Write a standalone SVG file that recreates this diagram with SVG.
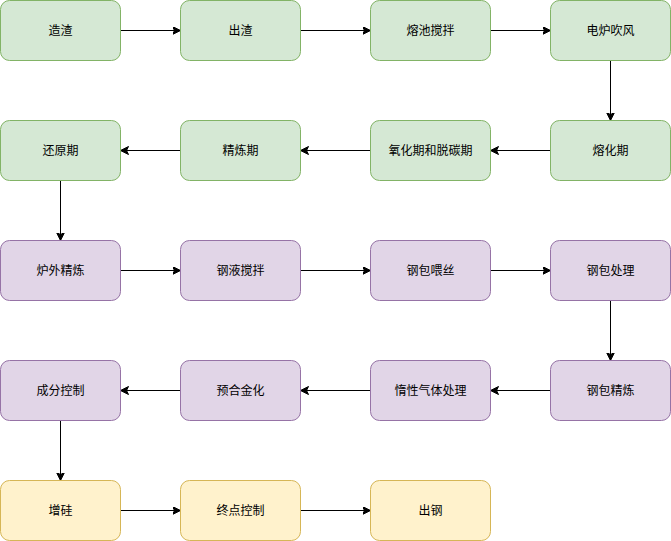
<svg xmlns="http://www.w3.org/2000/svg" width="671" height="541" viewBox="0 0 671 541">
<defs>
<style>
.n rect{stroke-width:1}
.g rect{fill:#d5e8d4;stroke:#82b366}
.p rect{fill:#e1d5e7;stroke:#9673a6}
.y rect{fill:#fff2cc;stroke:#d6b656}
.n text{font-family:"Liberation Sans","Noto Sans CJK SC",sans-serif;font-size:12px;fill:#000;text-anchor:middle;dominant-baseline:central}
#edges path{fill:none;stroke:#000;stroke-width:1;marker-end:url(#arr)}
</style>
<marker id="arr" markerUnits="userSpaceOnUse" markerWidth="10" markerHeight="10" viewBox="0 0 10 10" refX="8" refY="4" orient="auto">
<path d="M0,0 L8,4 L0,8 L2,4 Z" fill="#000" stroke="#000" stroke-width="1"/>
</marker>
</defs>
<rect width="671" height="541" fill="#fff"/>
<g id="edges">
<path d="M120.5,30.5 H180.5"/>
<path d="M300.5,30.5 H370.5"/>
<path d="M490.5,30.5 H550.5"/>
<path d="M610.5,60.5 V120.5"/>
<path d="M550.5,150.5 H490.5"/>
<path d="M370.5,150.5 H300.5"/>
<path d="M180.5,150.5 H120.5"/>
<path d="M60.5,180.5 V240.5"/>
<path d="M120.5,270.5 H180.5"/>
<path d="M300.5,270.5 H370.5"/>
<path d="M490.5,270.5 H550.5"/>
<path d="M610.5,300.5 V360.5"/>
<path d="M550.5,390.5 H490.5"/>
<path d="M370.5,390.5 H300.5"/>
<path d="M180.5,390.5 H120.5"/>
<path d="M60.5,420.5 V480.5"/>
<path d="M120.5,510.5 H180.5"/>
<path d="M300.5,510.5 H370.5"/>
</g>
<g id="n1" class="n g"><rect x="0.5" y="0.5" width="120" height="60" rx="9"/><text x="60.5" y="30.5">造渣</text></g>
<g id="n2" class="n g"><rect x="180.5" y="0.5" width="120" height="60" rx="9"/><text x="240.5" y="30.5">出渣</text></g>
<g id="n3" class="n g"><rect x="370.5" y="0.5" width="120" height="60" rx="9"/><text x="430.5" y="30.5">熔池搅拌</text></g>
<g id="n4" class="n g"><rect x="550.5" y="0.5" width="120" height="60" rx="9"/><text x="610.5" y="30.5">电炉吹风</text></g>
<g id="n5" class="n g"><rect x="550.5" y="120.5" width="120" height="60" rx="9"/><text x="610.5" y="150.5">熔化期</text></g>
<g id="n6" class="n g"><rect x="370.5" y="120.5" width="120" height="60" rx="9"/><text x="430.5" y="150.5">氧化期和脱碳期</text></g>
<g id="n7" class="n g"><rect x="180.5" y="120.5" width="120" height="60" rx="9"/><text x="240.5" y="150.5">精炼期</text></g>
<g id="n8" class="n g"><rect x="0.5" y="120.5" width="120" height="60" rx="9"/><text x="60.5" y="150.5">还原期</text></g>
<g id="n9" class="n p"><rect x="0.5" y="240.5" width="120" height="60" rx="9"/><text x="60.5" y="270.5">炉外精炼</text></g>
<g id="n10" class="n p"><rect x="180.5" y="240.5" width="120" height="60" rx="9"/><text x="240.5" y="270.5">钢液搅拌</text></g>
<g id="n11" class="n p"><rect x="370.5" y="240.5" width="120" height="60" rx="9"/><text x="430.5" y="270.5">钢包喂丝</text></g>
<g id="n12" class="n p"><rect x="550.5" y="240.5" width="120" height="60" rx="9"/><text x="610.5" y="270.5">钢包处理</text></g>
<g id="n13" class="n p"><rect x="550.5" y="360.5" width="120" height="60" rx="9"/><text x="610.5" y="390.5">钢包精炼</text></g>
<g id="n14" class="n p"><rect x="370.5" y="360.5" width="120" height="60" rx="9"/><text x="430.5" y="390.5">惰性气体处理</text></g>
<g id="n15" class="n p"><rect x="180.5" y="360.5" width="120" height="60" rx="9"/><text x="240.5" y="390.5">预合金化</text></g>
<g id="n16" class="n p"><rect x="0.5" y="360.5" width="120" height="60" rx="9"/><text x="60.5" y="390.5">成分控制</text></g>
<g id="n17" class="n y"><rect x="0.5" y="480.5" width="120" height="60" rx="9"/><text x="60.5" y="510.5">增硅</text></g>
<g id="n18" class="n y"><rect x="180.5" y="480.5" width="120" height="60" rx="9"/><text x="240.5" y="510.5">终点控制</text></g>
<g id="n19" class="n y"><rect x="370.5" y="480.5" width="120" height="60" rx="9"/><text x="430.5" y="510.5">出钢</text></g>
</svg>
